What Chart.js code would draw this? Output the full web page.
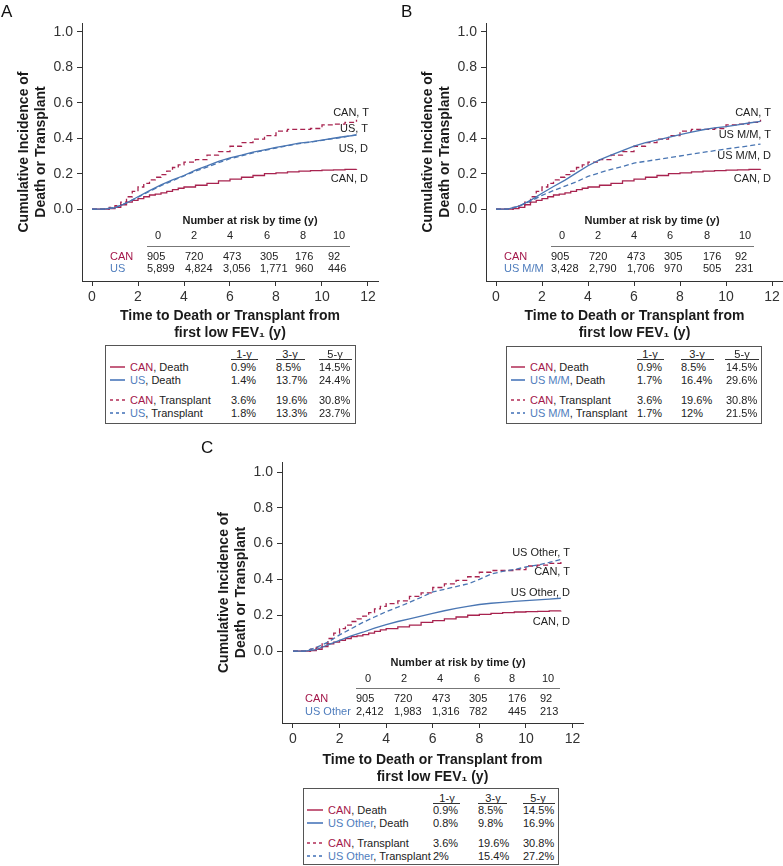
<!DOCTYPE html>
<html><head><meta charset="utf-8">
<script src="https://cdn.jsdelivr.net/npm/chart.js@4.4.1/dist/chart.umd.min.js"></script>
<style>
html,body{margin:0;padding:0;background:#fff;}
#root{position:relative;width:783px;height:866px;overflow:hidden;font-family:'Liberation Sans',Arial,Helvetica,sans-serif;color:#222;}
canvas{position:absolute;}
.t{position:absolute;white-space:nowrap;line-height:1;}
.r{position:absolute;}
</style></head><body><div id="root"></div>
<script>
// ---------- DATA ----------
const xTicks = [0, 2, 4, 6, 8, 10, 12];
const yTicks = [0, 0.2, 0.4, 0.6, 0.8, 1.0];

// CAN cohort (same in every panel)
const canYears = [0, 0.75, 1.0, 1.25, 1.5, 1.75, 2.0, 2.25, 2.5, 2.75, 3.0, 3.25, 3.5, 3.75, 4.0, 4.5, 5.0, 5.5, 6.0, 6.5, 7.0, 7.5, 8.0, 8.5, 9.0, 9.5, 10.0, 10.5, 11.0, 11.5];
const canTransplant = [0, 0.01, 0.02, 0.04, 0.07, 0.10, 0.125, 0.145, 0.165, 0.18, 0.195, 0.215, 0.235, 0.25, 0.265, 0.28, 0.305, 0.325, 0.355, 0.375, 0.395, 0.415, 0.44, 0.45, 0.45, 0.455, 0.475, 0.48, 0.49, 0.505];
const canDeath = [0, 0.003, 0.01, 0.025, 0.04, 0.05, 0.06, 0.07, 0.08, 0.085, 0.092, 0.10, 0.11, 0.118, 0.125, 0.135, 0.145, 0.16, 0.17, 0.18, 0.19, 0.20, 0.205, 0.21, 0.215, 0.218, 0.22, 0.222, 0.224, 0.225];

// US cohorts
const years = [0, 0.5, 1, 1.5, 2, 2.5, 3, 3.5, 4, 4.5, 5, 5.5, 6, 6.5, 7, 7.5, 8, 8.5, 9, 9.5, 10, 10.5, 11, 11.5];
const usDeath = [0, 0, 0.008, 0.035, 0.07, 0.105, 0.137, 0.165, 0.19, 0.22, 0.244, 0.27, 0.29, 0.305, 0.322, 0.335, 0.348, 0.36, 0.372, 0.38, 0.39, 0.40, 0.41, 0.418];
const usTransplant = [0, 0, 0.01, 0.035, 0.068, 0.10, 0.133, 0.16, 0.188, 0.215, 0.237, 0.262, 0.285, 0.30, 0.318, 0.332, 0.345, 0.358, 0.37, 0.378, 0.388, 0.398, 0.408, 0.42];
const usMMDeath = [0, 0, 0.017, 0.05, 0.09, 0.128, 0.164, 0.205, 0.245, 0.278, 0.305, 0.33, 0.355, 0.375, 0.39, 0.405, 0.42, 0.435, 0.448, 0.458, 0.466, 0.476, 0.486, 0.495];
const usMMTransplant = [0, 0, 0.017, 0.045, 0.078, 0.105, 0.13, 0.155, 0.185, 0.205, 0.225, 0.24, 0.26, 0.27, 0.28, 0.29, 0.30, 0.31, 0.32, 0.33, 0.34, 0.348, 0.357, 0.367];
const usOtherDeath = [0, 0, 0.008, 0.035, 0.06, 0.085, 0.105, 0.128, 0.148, 0.165, 0.18, 0.195, 0.21, 0.225, 0.238, 0.25, 0.26, 0.267, 0.272, 0.277, 0.282, 0.286, 0.29, 0.295];
const usOtherTransplant = [0, 0, 0.02, 0.05, 0.09, 0.125, 0.16, 0.19, 0.22, 0.245, 0.272, 0.30, 0.33, 0.345, 0.36, 0.375, 0.40, 0.43, 0.445, 0.455, 0.47, 0.48, 0.495, 0.512];

// Number at risk
const riskYears = [0, 2, 4, 6, 8, 10];
const riskCAN = [905, 720, 473, 305, 176, 92];
const riskUS = [5899, 4824, 3056, 1771, 960, 446];
const riskUSMM = [3428, 2790, 1706, 970, 505, 231];
const riskUSOther = [2412, 1983, 1316, 782, 445, 213];

// Cumulative incidence tables
const ciHeaders = ['1-y', '3-y', '5-y'];
const ciCANDeath = ['0.9%', '8.5%', '14.5%'];
const ciCANTransplant = ['3.6%', '19.6%', '30.8%'];
const ciUSDeath = ['1.4%', '13.7%', '24.4%'];
const ciUSTransplant = ['1.8%', '13.3%', '23.7%'];
const ciUSMMDeath = ['1.7%', '16.4%', '29.6%'];
const ciUSMMTransplant = ['1.7%', '12%', '21.5%'];
const ciUSOtherDeath = ['0.8%', '9.8%', '16.9%'];
const ciUSOtherTransplant = ['2%', '15.4%', '27.2%'];

// ---------- STYLE ----------
const FONT = "'Liberation Sans', Arial, Helvetica, sans-serif";
const RED = '#a8234f', BLUE = '#4a76b3';
const RED_T = '#a3174a', BLUE_T = '#4f7dbd';
const RED_S = '#c4607f', BLUE_S = '#6e92c8';
const root = document.getElementById('root');

function txt(parts, x, y, o = {}) {
  const d = document.createElement('div'); d.className = 't';
  d.style.fontSize = (o.size || 11) + 'px';
  if (o.bold) d.style.fontWeight = 'bold';
  d.style.color = o.color || '#222';
  d.style.left = x + 'px'; d.style.top = y + 'px';
  const tx = o.align === 'center' ? '-50%' : o.align === 'right' ? '-100%' : '0';
  d.style.transform = `translate(${tx},-50%)`;
  (Array.isArray(parts) ? parts : [[parts]]).forEach(p => {
    const s = document.createElement('span'); s.textContent = p[0];
    if (p[1]) s.style.color = p[1];
    d.appendChild(s);
  });
  root.appendChild(d); return d;
}
function rect(x, y, w, h, css) {
  const d = document.createElement('div'); d.className = 'r';
  d.style.left = x + 'px'; d.style.top = y + 'px'; d.style.width = w + 'px'; d.style.height = h + 'px';
  Object.assign(d.style, css); root.appendChild(d); return d;
}
function pts(xs, ys) { return xs.map((x, i) => ({x, y: ys[i]})); }

function makeChart(p, datasets) {
  const cv = document.createElement('canvas');
  cv.width = p.w; cv.height = p.h;
  cv.style.left = p.left + 'px'; cv.style.top = p.top + 'px';
  cv.style.width = p.w + 'px'; cv.style.height = p.h + 'px';
  root.appendChild(cv);
  const axisGrid = {drawOnChartArea: false, drawTicks: true, tickLength: 5, color: '#333', lineWidth: 1};
  const axisBorder = {display: true, color: '#333', width: 1};
  new Chart(cv, {
    type: 'line',
    data: {datasets},
    options: {
      responsive: false, animation: false, devicePixelRatio: 1,
      layout: {padding: {left: 0, top: p.areaTop, right: p.w - p.areaRight, bottom: 0}},
      plugins: {legend: {display: false}, tooltip: {enabled: false}},
      elements: {point: {radius: 0}, line: {borderWidth: 1.3, tension: 0}},
      scales: {
        x: {
          type: 'linear', min: p.xMin, max: p.xMax,
          afterBuildTicks: s => { s.ticks = xTicks.map(v => ({value: v})); },
          afterFit: s => { s.height = p.h - p.areaBottom; },
          grid: axisGrid, border: axisBorder,
          ticks: {font: {size: 14, family: FONT}, color: '#333', padding: 3, maxRotation: 0, autoSkip: false, callback: v => String(v)},
          title: {display: true, text: ['Time to Death or Transplant from', 'first low FEV\u2081 (y)'],
                  font: {size: 14, weight: 'bold', family: FONT, lineHeight: 17 / 14}, color: '#1a1a1a',
                  padding: {top: 0, bottom: p.xTitlePad}}
        },
        y: {
          type: 'linear', min: p.yMin, max: p.yMax,
          afterBuildTicks: s => { s.ticks = yTicks.map(v => ({value: v})); },
          afterFit: s => { s.width = p.areaLeft; },
          grid: axisGrid, border: axisBorder,
          ticks: {font: {size: 14, family: FONT}, color: '#333', padding: 4, callback: v => Number(v).toFixed(1)},
          title: {display: true, text: ['Cumulative Incidence of', 'Death or Transplant'],
                  font: {size: 14, weight: 'bold', family: FONT, lineHeight: 17 / 14}, color: '#1a1a1a',
                  padding: {top: p.yTitlePad, bottom: 0}}
        }
      }
    }
  });
}

function panelDatasets(usD, usT) {
  return [
    {data: pts(years, usD), borderColor: BLUE, borderWidth: 1.3},
    {data: pts(years, usT), borderColor: BLUE, borderWidth: 1.3, borderDash: [5, 3]},
    {data: pts(canYears, canDeath), borderColor: RED, borderWidth: 1.3, stepped: true},
    {data: pts(canYears, canTransplant), borderColor: RED, borderWidth: 1.3, borderDash: [5, 3], stepped: true}
  ];
}

function riskTable(r, usName, usRisk) {
  txt('Number at risk by time (y)', r.titleX, r.titleY, {bold: true, align: 'center', color: '#1a1a1a'});
  riskYears.forEach((v, i) => txt(String(v), r.head[i], r.headY, {align: 'center'}));
  rect(r.lineX0, r.lineY, r.lineX1 - r.lineX0, 1.5, {background: '#777'});
  txt([['CAN', RED_T]], r.labelX, r.row1);
  txt([[usName, BLUE_T]], r.labelX, r.row2);
  riskCAN.forEach((v, i) => txt(v.toLocaleString('en-US'), r.cols[i], r.row1));
  usRisk.forEach((v, i) => txt(v.toLocaleString('en-US'), r.cols[i], r.row2));
}

function legendBox(b, usName, usD, usT) {
  rect(b.x0, b.y0, b.x1 - b.x0, b.y1 - b.y0, {border: '1.5px solid #555', boxSizing: 'border-box'});
  ciHeaders.forEach((h, i) => {
    txt(h, b.headC[i], b.headY, {align: 'center'});
    rect(b.ul[i][0], b.ulY, b.ul[i][1] - b.ul[i][0], 1, {background: '#333'});
  });
  const rows = [
    ['CAN', RED_T, ', Death', RED_S, false, ciCANDeath],
    [usName, BLUE_T, ', Death', BLUE_S, false, usD],
    ['CAN', RED_T, ', Transplant', RED_S, true, ciCANTransplant],
    [usName, BLUE_T, ', Transplant', BLUE_S, true, usT]
  ];
  rows.forEach((r, i) => {
    const y = b.rows[i];
    const css = r[4] ? {background: `repeating-linear-gradient(to right, ${r[3]} 0 3px, transparent 3px 6px)`} : {background: r[3]};
    rect(b.sx0, Math.round(y) - 1, b.sx1 - b.sx0, 2, css);
    txt([[r[0], r[1]], [r[2], '#222']], b.tx, y);
    r[5].forEach((v, j) => txt(v, b.cols[j], y));
  });
}

// ---------- PANEL A ----------
makeChart({left: 0, top: 0, w: 390, h: 344, areaLeft: 82, areaTop: 23, areaBottom: 281, areaRight: 378,
           xMin: -0.435, xMax: 12.435, yMin: -0.405, yMax: 1.05, yTitlePad: 16, xTitlePad: 2.5},
          panelDatasets(usDeath, usTransplant));
txt('A', 1, 11, {size: 17, color: '#111'});
txt('CAN, T', 369, 112, {align: 'right'});
txt('US, T', 368, 128, {align: 'right'});
txt('US, D', 368, 148, {align: 'right'});
txt('CAN, D', 368, 178, {align: 'right'});
riskTable({titleX: 250, titleY: 220, head: [158, 194, 230, 267, 303, 339], headY: 235,
           lineX0: 147, lineX1: 350, lineY: 245.5, labelX: 110, row1: 256, row2: 268,
           cols: [147, 185, 223, 260, 295, 328]}, 'US', riskUS);
legendBox({x0: 105, y0: 345, x1: 356, y1: 424, headC: [244, 290, 335], headY: 354, ulY: 358.5,
           ul: [[231, 258], [276, 305], [319, 352]], rows: [367, 379.5, 400, 413],
           sx0: 110, sx1: 125, tx: 130, cols: [231, 276, 319]}, 'US', ciUSDeath, ciUSTransplant);

// ---------- PANEL B ----------
makeChart({left: 390, top: 0, w: 393, h: 344, areaLeft: 96, areaTop: 23, areaBottom: 281, areaRight: 393,
           xMin: -0.435, xMax: 12.478, yMin: -0.405, yMax: 1.05, yTitlePad: 30, xTitlePad: 2.5},
          panelDatasets(usMMDeath, usMMTransplant));
txt('B', 401, 11, {size: 17, color: '#111'});
txt('CAN, T', 771, 112, {align: 'right'});
txt('US M/M, T', 771, 134, {align: 'right'});
txt('US M/M, D', 771, 155, {align: 'right'});
txt('CAN, D', 771, 178, {align: 'right'});
riskTable({titleX: 652, titleY: 220, head: [562, 598, 634, 670, 707, 745], headY: 235,
           lineX0: 551, lineX1: 754, lineY: 245.5, labelX: 504, row1: 256, row2: 268,
           cols: [551, 589, 627, 664, 703, 735]}, 'US M/M', riskUSMM);
legendBox({x0: 506, y0: 346, x1: 762, y1: 424, headC: [650, 697, 742], headY: 354, ulY: 358.5,
           ul: [[637, 664], [681, 714], [725, 759]], rows: [367, 379.5, 400, 413],
           sx0: 511, sx1: 525, tx: 530, cols: [637, 681, 726]}, 'US M/M', ciUSMMDeath, ciUSMMTransplant);

// ---------- PANEL C ----------
makeChart({left: 200, top: 439, w: 395, h: 349, areaLeft: 82, areaTop: 23, areaBottom: 284, areaRight: 383,
           xMin: -0.472, xMax: 12.45, yMin: -0.402, yMax: 1.056, yTitlePad: 16, xTitlePad: 2.5},
          panelDatasets(usOtherDeath, usOtherTransplant));
txt('C', 201, 447, {size: 17, color: '#111'});
txt('US Other, T', 570, 552, {align: 'right'});
txt('CAN, T', 570, 571, {align: 'right'});
txt('US Other, D', 570, 592, {align: 'right'});
txt('CAN, D', 570, 621, {align: 'right'});
riskTable({titleX: 458, titleY: 662, head: [368, 404, 440, 477, 512, 548], headY: 678,
           lineX0: 356, lineX1: 560, lineY: 687.5, labelX: 305, row1: 698, row2: 711,
           cols: [356, 394, 432, 469, 508, 540]}, 'US Other', riskUSOther);
legendBox({x0: 303, y0: 788, x1: 559, y1: 865, headC: [447, 493, 538], headY: 798, ulY: 802.5,
           ul: [[433, 460], [478, 507], [523, 555]], rows: [810, 823, 843, 856],
           sx0: 307, sx1: 323, tx: 328, cols: [433, 478, 523]}, 'US Other', ciUSOtherDeath, ciUSOtherTransplant);
</script></body></html>
